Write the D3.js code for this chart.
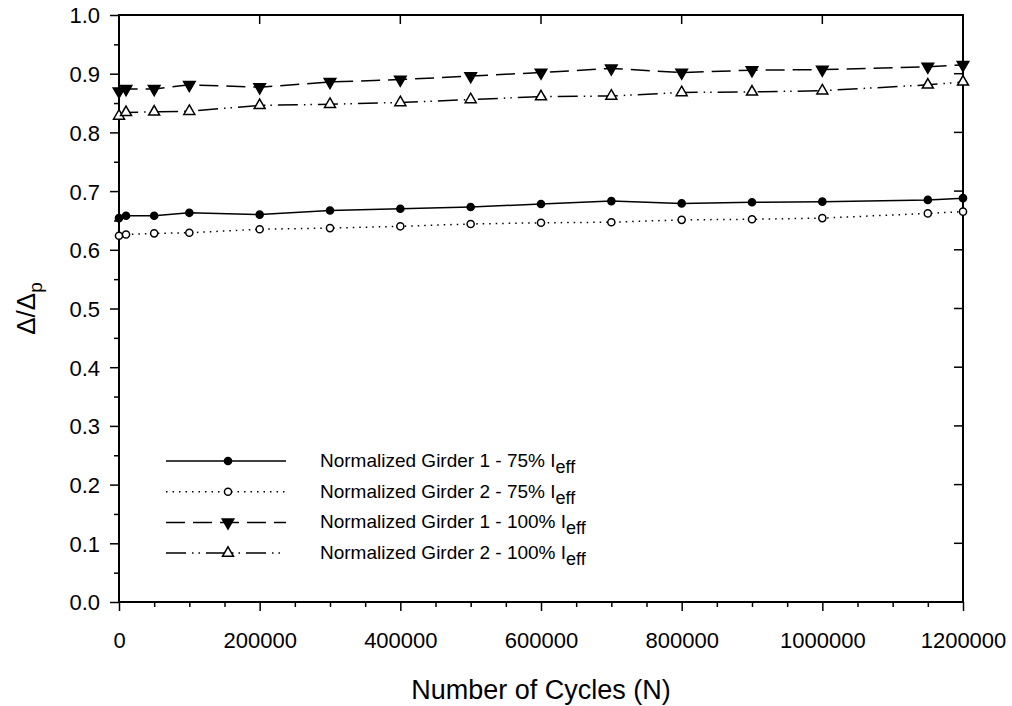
<!DOCTYPE html>
<html>
<head>
<meta charset="utf-8">
<script src="https://cdn.jsdelivr.net/npm/d3@7"></script>
<style>
  body { margin: 0; background: #fff; }
  text { font-family: "Liberation Sans", Arial, sans-serif; fill: #000; }
</style>
</head>
<body>
<svg id="chart" width="1012" height="706"></svg>
<script>
// cycles where readings were taken
const cycles = [0, 10000, 50000, 100000, 200000, 300000, 400000, 500000,
  600000, 700000, 800000, 900000, 1000000, 1150000, 1200000];

// normalized deflection per series
const girder1_75 = [0.654, 0.658, 0.658, 0.663, 0.660, 0.667, 0.670, 0.673,
  0.678, 0.683, 0.679, 0.681, 0.682, 0.685, 0.688];
const girder2_75 = [0.624, 0.626, 0.628, 0.629, 0.635, 0.637, 0.640, 0.644,
  0.646, 0.647, 0.651, 0.652, 0.654, 0.662, 0.665];
const girder1_100 = [0.870, 0.874, 0.874, 0.881, 0.877, 0.886, 0.890, 0.896,
  0.902, 0.909, 0.902, 0.906, 0.907, 0.912, 0.915];
const girder2_100 = [0.828, 0.834, 0.835, 0.836, 0.846, 0.848, 0.851, 0.856,
  0.861, 0.862, 0.868, 0.869, 0.871, 0.881, 0.886];

const seriesNames = ["Normalized Girder 1 - 75% ", "Normalized Girder 2 - 75% ",
  "Normalized Girder 1 - 100% ", "Normalized Girder 2 - 100% "];
const xTicks = [0, 200000, 400000, 600000, 800000, 1000000, 1200000];
const yTicks = [0, 0.1, 0.2, 0.3, 0.4, 0.5, 0.6, 0.7, 0.8, 0.9, 1.0];

const series = [
  {name: seriesNames[0], values: girder1_75, dash: null, marker: "circle", fill: "#000"},
  {name: seriesNames[1], values: girder2_75, dash: "1.5,5", marker: "circle", fill: "#fff"},
  {name: seriesNames[2], values: girder1_100, dash: "19,8", marker: "down", fill: "#000"},
  {name: seriesNames[3], values: girder2_100, dash: "20,6,1.5,5,1.5,6", marker: "up", fill: "#fff"}
];

const margin = {left: 119, right: 49, top: 15, bottom: 104};
const W = 1012, H = 706;
const svg = d3.select("#chart");

const x = d3.scaleLinear().domain([0, 1200000]).range([margin.left, W - margin.right]);
const y = d3.scaleLinear().domain([0, 1]).range([H - margin.bottom, margin.top]);

// frame
svg.append("rect")
  .attr("x", x(0)).attr("y", y(1))
  .attr("width", x(1200000) - x(0)).attr("height", y(0) - y(1))
  .attr("fill", "none").attr("stroke", "#000").attr("stroke-width", 2);

// bottom axis, major + minor outward
const gx = svg.append("g").attr("transform", `translate(0,${y(0)})`);
gx.call(d3.axisBottom(x).tickValues(d3.range(0, 1200001, 50000)).tickSize(5).tickFormat(""));
gx.call(g => g.selectAll(".tick line").attr("y2", d => d % 200000 === 0 ? 9 : 5));
gx.selectAll(".tick").filter(d => d % 200000 === 0).append("text")
  .attr("y", 46).attr("text-anchor", "middle").attr("font-size", 22)
  .text(d => d);
gx.select(".domain").remove();

// left axis
const gy = svg.append("g").attr("transform", `translate(${x(0)},0)`);
gy.call(d3.axisLeft(y).tickValues(d3.range(0, 21).map(i => i * 0.05)).tickFormat(""));
gy.call(g => g.selectAll(".tick line").attr("x2", (d, i) => i % 2 === 0 ? -9 : -5));
gy.selectAll(".tick").filter((d, i) => i % 2 === 0).append("text")
  .attr("x", -19).attr("dy", "0.36em").attr("text-anchor", "end").attr("font-size", 22)
  .text(d => d3.format(".1f")(d));
gy.select(".domain").remove();

// top and right inward ticks
svg.append("g").selectAll("line").data(xTicks.slice(1, -1)).join("line")
  .attr("x1", d => x(d)).attr("x2", d => x(d))
  .attr("y1", y(1)).attr("y2", y(1) + 9).attr("stroke", "#000").attr("stroke-width", 1.5);
svg.append("g").selectAll("line").data(yTicks.slice(1, -1)).join("line")
  .attr("x1", x(1200000)).attr("x2", x(1200000) - 9)
  .attr("y1", d => y(d)).attr("y2", d => y(d)).attr("stroke", "#000").attr("stroke-width", 1.5);
svg.selectAll(".tick line").attr("stroke-width", 1.5);

// axis titles
svg.append("text")
  .attr("x", (x(0) + x(1200000)) / 2).attr("y", H - 7)
  .attr("text-anchor", "middle").attr("font-size", 27)
  .text("Number of Cycles (N)");
const yt = svg.append("text")
  .attr("transform", `translate(35,${(y(0) + y(1)) / 2}) rotate(-90)`)
  .attr("text-anchor", "middle").attr("font-size", 26);
yt.append("tspan").text("Δ/Δ");
yt.append("tspan").attr("dy", 7).attr("font-size", 19).text("p");

const symbol = {
  circle: d3.symbol().type(d3.symbolCircle).size(40),
  down: d3.symbol().type(d3.symbolTriangle).size(58),
  up: d3.symbol().type(d3.symbolTriangle).size(52)
};

function drawMarker(g, s, px, py) {
  g.append("path")
    .attr("d", symbol[s.marker]())
    .attr("transform", `translate(${px},${py})${s.marker === "down" ? " rotate(180)" : ""}`)
    .attr("fill", s.fill).attr("stroke", "#000").attr("stroke-width", 1.5);
}

const line = d3.line().x(d => x(d[0])).y(d => y(d[1]));

series.forEach(s => {
  const pts = cycles.map((c, i) => [c, s.values[i]]);
  svg.append("path").datum(pts)
    .attr("d", line).attr("fill", "none").attr("stroke", "#000")
    .attr("stroke-width", 1.5).attr("stroke-dasharray", s.dash);
  const g = svg.append("g");
  pts.forEach(p => drawMarker(g, s, x(p[0]), y(p[1])));
});

// legend
const leg = svg.append("g");
series.forEach((s, i) => {
  const ly = 461 + i * 30.7;
  leg.append("line").attr("x1", 166).attr("x2", 286).attr("y1", ly).attr("y2", ly)
    .attr("stroke", "#000").attr("stroke-width", 1.5).attr("stroke-dasharray", s.dash);
  drawMarker(leg, s, 228, ly);
  const t = leg.append("text").attr("x", 320).attr("y", ly + 6).attr("font-size", 19);
  t.append("tspan").text(s.name + "I");
  t.append("tspan").attr("dy", 6).attr("font-size", 18).text("eff");
});
</script>
</body>
</html>
